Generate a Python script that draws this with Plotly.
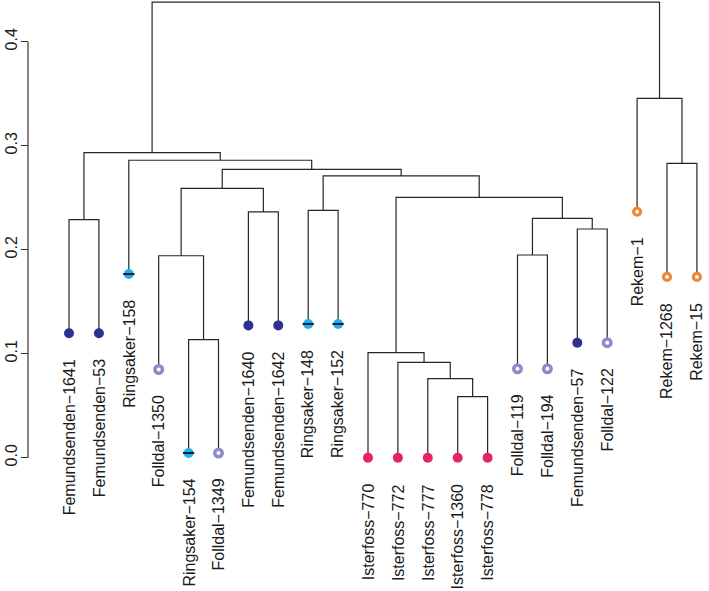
import plotly.graph_objects as go

# ---------------- data ----------------
leaf_labels = [
    "Femundsenden−1641", "Femundsenden−53", "Ringsaker−158", "Folldal−1350",
    "Ringsaker−154", "Folldal−1349", "Femundsenden−1640", "Femundsenden−1642",
    "Ringsaker−148", "Ringsaker−152", "Isterfoss−770", "Isterfoss−772",
    "Isterfoss−777", "Isterfoss−1360", "Isterfoss−778", "Folldal−119",
    "Folldal−194", "Femundsenden−57", "Folldal−122", "Rekem−1",
    "Rekem−1268", "Rekem−15",
]
leaf_groups = [
    "Femundsenden", "Femundsenden", "Ringsaker", "Folldal", "Ringsaker", "Folldal",
    "Femundsenden", "Femundsenden", "Ringsaker", "Ringsaker", "Isterfoss",
    "Isterfoss", "Isterfoss", "Isterfoss", "Isterfoss", "Folldal", "Folldal",
    "Femundsenden", "Folldal", "Rekem", "Rekem", "Rekem",
]
leaf_heights = [
    0.1196, 0.1196, 0.1766, 0.0848, 0.0045, 0.0045, 0.1272, 0.1272, 0.1286,
    0.1286, 0.0, 0.0, 0.0, 0.0, 0.0, 0.0855, 0.0855, 0.1106, 0.1106, 0.2365,
    0.1738, 0.1738,
]
# R-style merge table: negative = leaf (1-based), positive = earlier merge (1-based)
merge_left = [-14, -13, -12, -11, -5, -4, -16, -18, -1, 7, -7, -9, 4, 6, 12, 14, -21, -3, 9, -20, 19]
merge_right = [-15, 1, 2, 3, -6, 5, -17, -19, -2, 8, -8, -10, 10, 11, 13, 15, -22, 16, 18, 17, 20]
merge_heights = [0.0587, 0.0760, 0.0917, 0.1010, 0.1135, 0.1942, 0.1949, 0.2199,
                 0.2290, 0.2302, 0.2363, 0.2378, 0.2504, 0.2590, 0.2709, 0.2773,
                 0.2830, 0.2860, 0.2933, 0.3456, 0.4380]
y_ticks = [0.0, 0.1, 0.2, 0.3, 0.4]
y_tick_labels = ["0.0", "0.1", "0.2", "0.3", "0.4"]

# ---------------- styles ----------------
W, H = 709, 591
group_style = {
    "Femundsenden": dict(color="#2E3192", line=dict(color="#2E3192", width=0), size=10),
    "Ringsaker": dict(color="#1FB4E9", line=dict(color="#1FB4E9", width=0), size=10),
    "Folldal": dict(color="white", line=dict(color="#8D8BCB", width=3.5), size=7.5),
    "Isterfoss": dict(color="#E6245E", line=dict(color="#E6245E", width=0), size=10),
    "Rekem": dict(color="white", line=dict(color="#F08532", width=3.2), size=7),
}
LINE_COLOR = "#262626"

# ---------------- geometry of the tree ----------------
n = len(leaf_labels)
leaf_x = list(range(n))
node_x, node_y = [], []


def child_pos(ref):
    if ref < 0:
        i = -ref - 1
        return leaf_x[i], leaf_heights[i]
    return node_x[ref - 1], node_y[ref - 1]


lx, ly = [], []
for a, b, h in zip(merge_left, merge_right, merge_heights):
    xa, ya = child_pos(a)
    xb, yb = child_pos(b)
    lx += [xa, xa, xb, xb, None]
    ly += [ya, h, h, yb, None]
    node_x.append((xa + xb) / 2)
    node_y.append(h)

fig = go.Figure()
fig.add_trace(go.Scatter(x=lx, y=ly, mode="lines",
                         line=dict(color=LINE_COLOR, width=1.2),
                         hoverinfo="skip", showlegend=False))

for g, st in group_style.items():
    idx = [i for i in range(n) if leaf_groups[i] == g]
    fig.add_trace(go.Scatter(
        x=[leaf_x[i] for i in idx], y=[leaf_heights[i] for i in idx],
        mode="markers", name=g, showlegend=False, cliponaxis=False,
        marker=dict(symbol="circle", **st)))
    if g == "Ringsaker":
        fig.add_trace(go.Scatter(
            x=[leaf_x[i] for i in idx], y=[leaf_heights[i] for i in idx],
            mode="markers", showlegend=False, cliponaxis=False, hoverinfo="skip",
            marker=dict(symbol="line-ew", size=8,
                        line=dict(color="#1a1a40", width=2))))

for i in range(n):
    fig.add_annotation(x=leaf_x[i], y=leaf_heights[i], text=leaf_labels[i],
                       textangle=-90, xanchor="center", yanchor="top",
                       yshift=-24, showarrow=False,
                       font=dict(family="Liberation Sans, Arial", size=16, color="#1a1a1a"))

# y-axis line only spanning the tick range (R style)
axis_px = 28
fig.add_shape(type="line", xref="paper", yref="y",
              x0=axis_px / W, x1=axis_px / W, y0=y_ticks[0], y1=y_ticks[-1],
              line=dict(color="#333333", width=1.2))

# pixel mapping: leaf 0 at px 69, spacing 29.9 px; y=0 at px 457.7, 104 px per 0.1
sp = 29.9
x0 = -69 / sp
x1 = x0 + W / sp
yppu = 1040.0
y_top = 457.7 / yppu
y_bot = (457.7 - H) / yppu

fig.update_layout(
    width=W, height=H,
    margin=dict(l=0, r=0, t=0, b=0),
    paper_bgcolor="white", plot_bgcolor="white",
    showlegend=False,
    xaxis=dict(range=[x0, x1], visible=False, domain=[0, 1]),
    yaxis=dict(range=[y_bot, y_top], anchor="free", position=axis_px / W,
               showgrid=False, zeroline=False, showline=False,
               tickmode="array", tickvals=y_ticks, ticktext=y_tick_labels,
               ticks="outside", ticklen=7, tickwidth=1.2, tickcolor="#333333",
               tickangle=-90, ticklabelstandoff=-2,
               tickfont=dict(family="Liberation Sans, Arial", size=16, color="#1a1a1a")),
)

fig.write_html("out.html", config={"displayModeBar": False},
               post_script="document.body.style.margin='0';document.body.style.overflow='hidden';")
